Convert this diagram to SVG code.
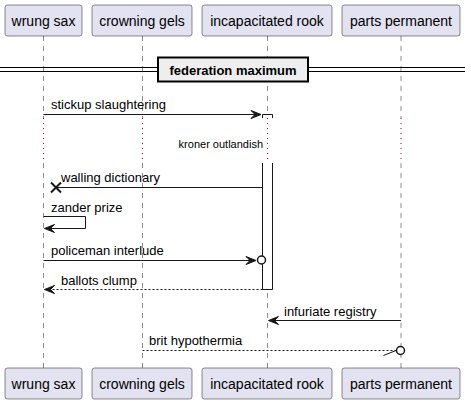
<svg xmlns="http://www.w3.org/2000/svg" width="471" height="404" viewBox="0 0 471 404">
<style>
.box{fill:#E2E2F0;stroke:#181818;stroke-width:0.5}
.pt{font-family:"Liberation Sans",Arial,sans-serif;font-size:14px;fill:#000}
.life{stroke:#181818;stroke-width:0.5;stroke-dasharray:5,5;fill:none}
.delay{stroke:#A80036;stroke-width:1;stroke-dasharray:1,4;fill:none}
.msg{stroke:#181818;stroke-width:1;fill:none}
.dash{stroke:#181818;stroke-width:1;fill:none;stroke-dasharray:2,2}
.mt{font-family:"Liberation Sans",Arial,sans-serif;font-size:13px;fill:#000}
.act{fill:#FFFFFF;stroke:#181818;stroke-width:1}
.head{fill:#181818;stroke:#181818;stroke-width:1}
</style>
<rect width="471" height="404" fill="#FFFFFF"/>
<g id="lifelines">
<line class="life" x1="43.5" y1="36" x2="43.5" y2="118"/>
<line class="life" x1="43.5" y1="163" x2="43.5" y2="368"/>
<line class="life" x1="142.5" y1="36" x2="142.5" y2="118"/>
<line class="life" x1="142.5" y1="163" x2="142.5" y2="368"/>
<line class="life" x1="267.5" y1="36" x2="267.5" y2="118"/>
<line class="life" x1="267.5" y1="163" x2="267.5" y2="368"/>
<line class="life" x1="401" y1="36" x2="401" y2="118"/>
<line class="life" x1="401" y1="163" x2="401" y2="368"/>
<line class="delay" x1="43.5" y1="118" x2="43.5" y2="163"/>
<line class="delay" x1="142.5" y1="118" x2="142.5" y2="163"/>
<line class="delay" x1="267.5" y1="118" x2="267.5" y2="163"/>
<line class="delay" x1="401" y1="118" x2="401" y2="163"/>
</g>
<g id="activation">
<path class="act" d="M262.5,118 V114.5 H272.5 V118"/>
<path class="act" d="M262.5,163 V289.5 H272.5 V163"/>
</g>
<g id="divider">
<line x1="0" y1="67.5" x2="465" y2="67.5" stroke="#000" stroke-width="1"/>
<line x1="0" y1="71.5" x2="465" y2="71.5" stroke="#000" stroke-width="1"/>
<rect x="158" y="57.5" width="150" height="24" fill="#EEEEEE" stroke="#000" stroke-width="2"/>
<text x="233" y="74.5" text-anchor="middle" font-family="'Liberation Sans',Arial,sans-serif" font-size="13" font-weight="bold">federation maximum</text>
</g>
<g id="p_wrung_sax">
<rect class="box" x="5" y="5" width="77" height="31" rx="2.5"/>
<text class="pt" x="43.5" y="25.5" text-anchor="middle">wrung sax</text>
<rect class="box" x="5" y="368" width="77" height="31" rx="2.5"/>
<text class="pt" x="43.5" y="388.5" text-anchor="middle">wrung sax</text>
</g>
<g id="p_crowning_gels">
<rect class="box" x="92" y="5" width="100" height="31" rx="2.5"/>
<text class="pt" x="142" y="25.5" text-anchor="middle">crowning gels</text>
<rect class="box" x="92" y="368" width="100" height="31" rx="2.5"/>
<text class="pt" x="142" y="388.5" text-anchor="middle">crowning gels</text>
</g>
<g id="p_incapacitated_rook">
<rect class="box" x="202" y="5" width="130" height="31" rx="2.5"/>
<text class="pt" x="267" y="25.5" text-anchor="middle">incapacitated rook</text>
<rect class="box" x="202" y="368" width="130" height="31" rx="2.5"/>
<text class="pt" x="267" y="388.5" text-anchor="middle">incapacitated rook</text>
</g>
<g id="p_parts_permanent">
<rect class="box" x="342" y="5" width="118" height="31" rx="2.5"/>
<text class="pt" x="401" y="25.5" text-anchor="middle">parts permanent</text>
<rect class="box" x="342" y="368" width="118" height="31" rx="2.5"/>
<text class="pt" x="401" y="388.5" text-anchor="middle">parts permanent</text>
</g>
<g id="connectors">
<line class="msg" x1="43.5" y1="114.5" x2="260" y2="114.5"/>
<polygon class="head" points="261,114.5 251,110.5 255,114.5 251,118.5"/>
<text class="mt" x="51" y="108.5">stickup slaughtering</text>

<text x="263" y="148" text-anchor="end" font-family="'Liberation Sans',Arial,sans-serif" font-size="11">kroner outlandish</text>

<line class="msg" x1="262.5" y1="187.5" x2="56" y2="187.5"/>
<path d="M51,182.5 L61,192.5 M61,182.5 L51,192.5" stroke="#181818" stroke-width="2" fill="none"/>
<text class="mt" x="61" y="182">walling dictionary</text>

<polyline class="msg" points="43.5,216.5 85.5,216.5 85.5,228.5 44.5,228.5"/>
<polygon class="head" points="44.5,228.5 54.5,224.5 50.5,228.5 54.5,232.5"/>
<text class="mt" x="51" y="212">zander prize</text>

<line class="msg" x1="43.5" y1="260.5" x2="255" y2="260.5"/>
<polygon class="head" points="256,260.5 246,256.5 250,260.5 246,264.5"/>
<circle cx="261.5" cy="260" r="4" fill="#FFFFFF" stroke="#181818" stroke-width="1.5"/>
<text class="mt" x="51" y="255">policeman interlude</text>

<line class="dash" x1="262.5" y1="289.5" x2="44.5" y2="289.5"/>
<polygon class="head" points="44.5,289.5 54.5,285.5 50.5,289.5 54.5,293.5"/>
<text class="mt" x="61" y="285">ballots clump</text>

<line class="msg" x1="401" y1="320.5" x2="269" y2="320.5"/>
<polygon class="head" points="268.5,320.5 278.5,316.5 274.5,320.5 278.5,324.5"/>
<text class="mt" x="284" y="316">infuriate registry</text>

<line class="dash" x1="142.5" y1="350.5" x2="396" y2="350.5"/>
<line class="msg" x1="383.5" y1="355.5" x2="396" y2="350.5"/>
<circle cx="400.5" cy="350.5" r="4" fill="#FFFFFF" stroke="#181818" stroke-width="1.5"/>
<text class="mt" x="149" y="345">brit hypothermia</text>
</g>
</svg>
